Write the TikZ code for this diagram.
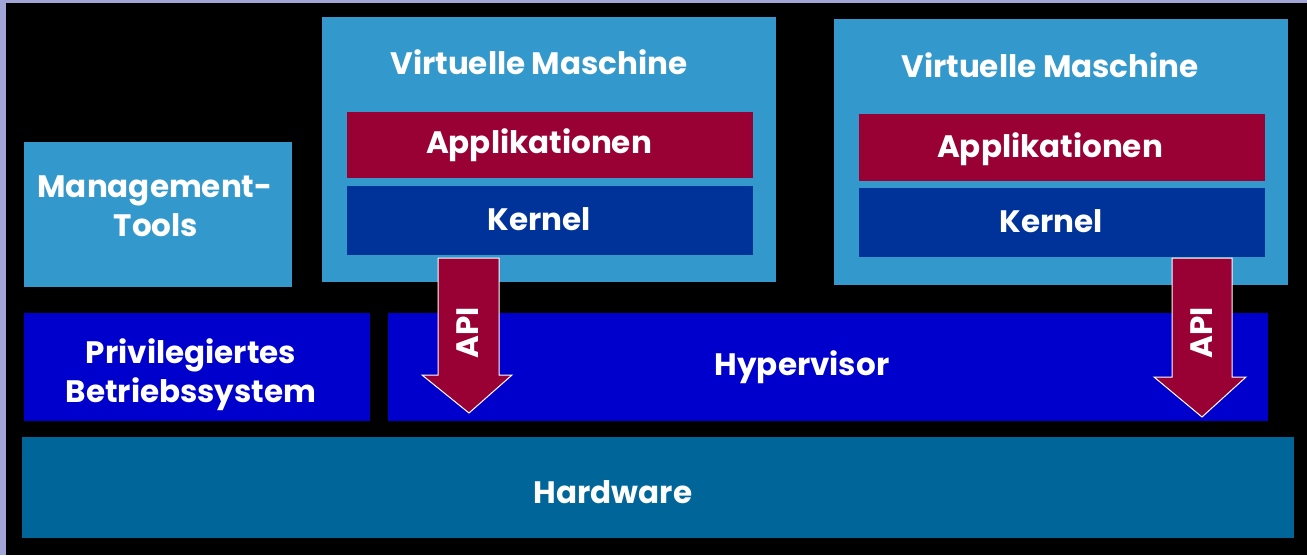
\documentclass[tikz,border=0pt]{standalone}
\usepackage{fontspec}
\setmainfont{Poppins}
\definecolor{lav}{HTML}{A2A6D6}
\definecolor{vmblue}{HTML}{3399CC}
\definecolor{appred}{HTML}{990033}
\definecolor{kernblue}{HTML}{003399}
\definecolor{hypblue}{HTML}{0000CC}
\definecolor{hwblue}{HTML}{006699}
\tikzset{
  blk/.style={draw=none, inner sep=0pt, outer sep=0pt},
  lbl/.style={text=white, font=\fontsize{31}{34}\selectfont\bfseries, inner sep=0pt, anchor=base},
  apitxt/.style={text=white, font=\fontsize{31}{34}\selectfont\bfseries, inner sep=0pt, rotate=90},
  apiarrow/.style={fill=appred, draw=white, line width=1pt, line join=miter}
}
\begin{document}
\begin{tikzpicture}[x=1pt, y=-1pt]
\useasboundingbox (0,0) rectangle (1307,555);
\fill[lav] (0,0) rectangle (1307,555);
\fill[black] (6,3) rectangle (1307,555);
% blocks
\node[blk, fill=vmblue, minimum width=454pt, minimum height=265pt] (vm1) at (549,149.5) {};
\node[blk, fill=appred, minimum width=406pt, minimum height=66pt] (app1) at (550,145) {};
\node[blk, fill=kernblue, minimum width=406pt, minimum height=69pt] (k1) at (550,220.5) {};
\node[blk, fill=vmblue, minimum width=454pt, minimum height=266pt] (vm2) at (1061,152) {};
\node[blk, fill=appred, minimum width=406pt, minimum height=67pt] (app2) at (1062,147.5) {};
\node[blk, fill=kernblue, minimum width=406pt, minimum height=69pt] (k2) at (1062,222.5) {};
\node[blk, fill=vmblue, minimum width=268pt, minimum height=145pt] (mgmt) at (158,214.5) {};
\node[blk, fill=hypblue, minimum width=346pt, minimum height=108pt] (priv) at (197,367) {};
\node[blk, fill=hypblue, minimum width=880pt, minimum height=108pt] (hyp) at (828,366.5) {};
\node[blk, fill=hwblue, minimum width=1272pt, minimum height=101pt] (hw) at (658,487.5) {};
% labels
\node[lbl] (t-vm1) at (539,74) {Virtuelle Maschine};
\node[lbl] (t-app1) at (539,153) {Applikationen};
\node[lbl] (t-k1) at (539,230) {Kernel};
\node[lbl] (t-vm2) at (1050,77) {Virtuelle Maschine};
\node[lbl] (t-app2) at (1050,157) {Applikationen};
\node[lbl] (t-k2) at (1051,232) {Kernel};
\node[lbl] (t-mgmt1) at (155,197) {Management-};
\node[lbl] (t-mgmt2) at (156,236) {Tools};
\node[lbl] (t-priv1) at (191,363) {Privilegiertes};
\node[lbl] (t-priv2) at (191,402) {Betriebssystem};
\node[lbl] (t-hyp) at (802,375) {Hypervisor};
\node[lbl] (t-hw) at (613,503) {Hardware};
% API arrows
\draw[apiarrow] (438,258) -- (499,258) -- (499,375) -- (512,375) -- (469,413) -- (422,375) -- (438,375) -- cycle;
\node[apitxt] (api1) at (468,333) {API};
\draw[apiarrow] (1172,258) -- (1232,258) -- (1232,377) -- (1246,377) -- (1202,417) -- (1154,377) -- (1172,377) -- cycle;
\node[apitxt] (api2) at (1202,333) {API};
\end{tikzpicture}
\end{document}
